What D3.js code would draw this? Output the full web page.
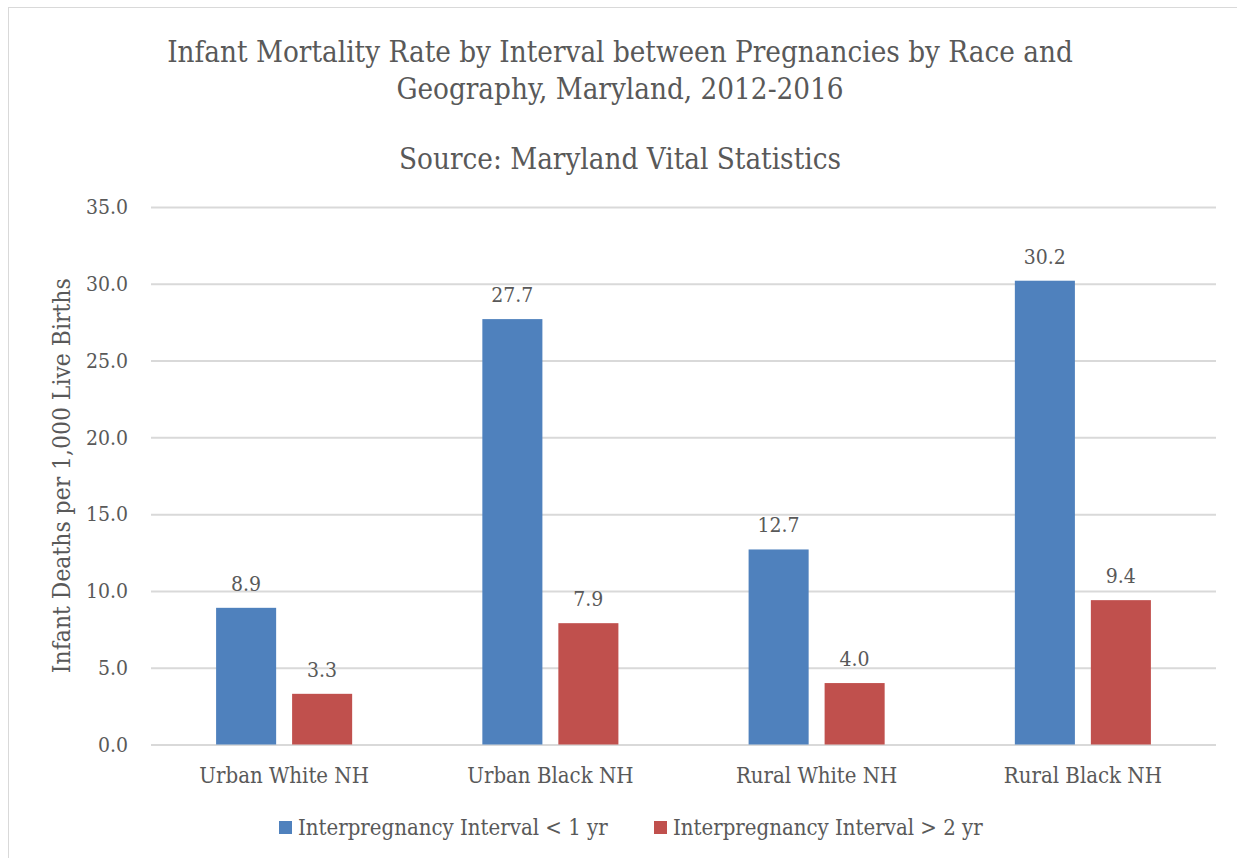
<!DOCTYPE html>
<html>
<head>
<meta charset="utf-8">
<script src="https://cdn.jsdelivr.net/npm/d3@7"></script>
<style>
  body { margin: 0; background: #fff; }
  text { font-family: "DejaVu Serif Condensed", "DejaVu Serif", serif; font-stretch: condensed; fill: #595959; }
</style>
</head>
<body>
<div id="chart"></div>
<script>
var categories = ['Urban White NH', 'Urban Black NH', 'Rural White NH', 'Rural Black NH'];
var seriesNames = ['Interpregnancy Interval < 1 yr', 'Interpregnancy Interval > 2 yr'];
var shortInterval = [8.9, 27.7, 12.7, 30.2];
var longInterval = [3.3, 7.9, 4.0, 9.4];
var yTicks = [0, 5, 10, 15, 20, 25, 30, 35];
var colors = ['#4F81BD', '#C0504D'];

var W = 1237, H = 858;
var plot = { left: 151, right: 1216, top: 207, bottom: 744.5 };

var svg = d3.select('#chart')
  .append('svg')
  .attr('width', W)
  .attr('height', H);

// chart frame (only left/top edges visible in the picture)
svg.append('rect')
  .attr('x', 8.5).attr('y', 7.5)
  .attr('width', 1260).attr('height', 900)
  .attr('fill', 'none')
  .attr('stroke', '#D9D9D9')
  .attr('stroke-width', 1);

var y = d3.scaleLinear()
  .domain([0, 35])
  .range([plot.bottom, plot.top]);

var x0 = d3.scaleBand()
  .domain(categories)
  .range([plot.left, plot.right])
  .paddingInner(0.489)
  .paddingOuter(0.2445);

var x1 = d3.scaleBand()
  .domain(seriesNames)
  .range([0, x0.bandwidth()])
  .paddingInner(0.21);

// gridlines + tick labels
var yAxis = d3.axisLeft(y)
  .tickValues(yTicks)
  .tickSize(-(plot.right - plot.left))
  .tickPadding(23)
  .tickFormat(d3.format('.1f'));

var gy = svg.append('g')
  .attr('transform', 'translate(' + plot.left + ',0)')
  .call(yAxis);
gy.select('.domain').remove();
gy.selectAll('.tick line').attr('stroke', '#D9D9D9').attr('stroke-width', 2);
gy.selectAll('.tick text')
  .style('font-size', '21px')
  .attr('fill', '#595959');

var xAxis = d3.axisBottom(x0).tickSize(0).tickPadding(23);
var gx = svg.append('g')
  .attr('transform', 'translate(0,' + plot.bottom + ')')
  .call(xAxis);
gx.select('.domain').remove();
gx.selectAll('.tick text')
  .style('font-size', '22px')
  .attr('fill', '#595959');

var rows = categories.map(function(c, i) {
  return { cat: c, vals: [shortInterval[i], longInterval[i]] };
});

var groups = svg.append('g').selectAll('g')
  .data(rows)
  .join('g')
  .attr('transform', function(d) { return 'translate(' + x0(d.cat) + ',0)'; });

groups.selectAll('rect')
  .data(function(d) { return d.vals.map(function(v, j) { return { s: seriesNames[j], v: v, j: j }; }); })
  .join('rect')
  .attr('x', function(d) { return x1(d.s); })
  .attr('y', function(d) { return y(d.v); })
  .attr('width', x1.bandwidth())
  .attr('height', function(d) { return y(0) - y(d.v); })
  .attr('fill', function(d) { return colors[d.j]; });

groups.selectAll('text.lbl')
  .data(function(d) { return d.vals.map(function(v, j) { return { s: seriesNames[j], v: v }; }); })
  .join('text')
  .attr('class', 'lbl')
  .attr('x', function(d) { return x1(d.s) + x1.bandwidth() / 2; })
  .attr('y', function(d) { return y(d.v) - 17; })
  .style('text-anchor', 'middle')
  .style('font-size', '21px')
  .text(function(d) { return d3.format('.1f')(d.v); });

// y axis title
svg.append('text')
  .attr('transform', 'translate(70,' + ((plot.top + plot.bottom) / 2) + ') rotate(-90)')
  .style('text-anchor', 'middle')
  .style('font-size', '24.4px')
  .text('Infant Deaths per 1,000 Live Births');

// title
var title = svg.append('text')
  .style('text-anchor', 'middle')
  .style('font-size', '29.3px');
title.append('tspan').attr('x', 620).attr('y', 61.5).text('Infant Mortality Rate by Interval between Pregnancies by Race and');
title.append('tspan').attr('x', 620).attr('y', 98.5).text('Geography, Maryland, 2012-2016');
svg.append('text')
  .attr('x', 620).attr('y', 169)
  .style('text-anchor', 'middle')
  .style('font-size', '29.3px')
  .text('Source: Maryland Vital Statistics');

// legend
var legendX = [279, 654];
var legend = svg.append('g').selectAll('g')
  .data(seriesNames)
  .join('g')
  .attr('transform', function(d, i) { return 'translate(' + legendX[i] + ',821)'; });
legend.append('rect')
  .attr('width', 13).attr('height', 13)
  .attr('fill', function(d, i) { return colors[i]; });
legend.append('text')
  .attr('x', 19).attr('y', 14)
  .style('font-size', '22px')
  .text(function(d) { return d; });
</script>
</body>
</html>
